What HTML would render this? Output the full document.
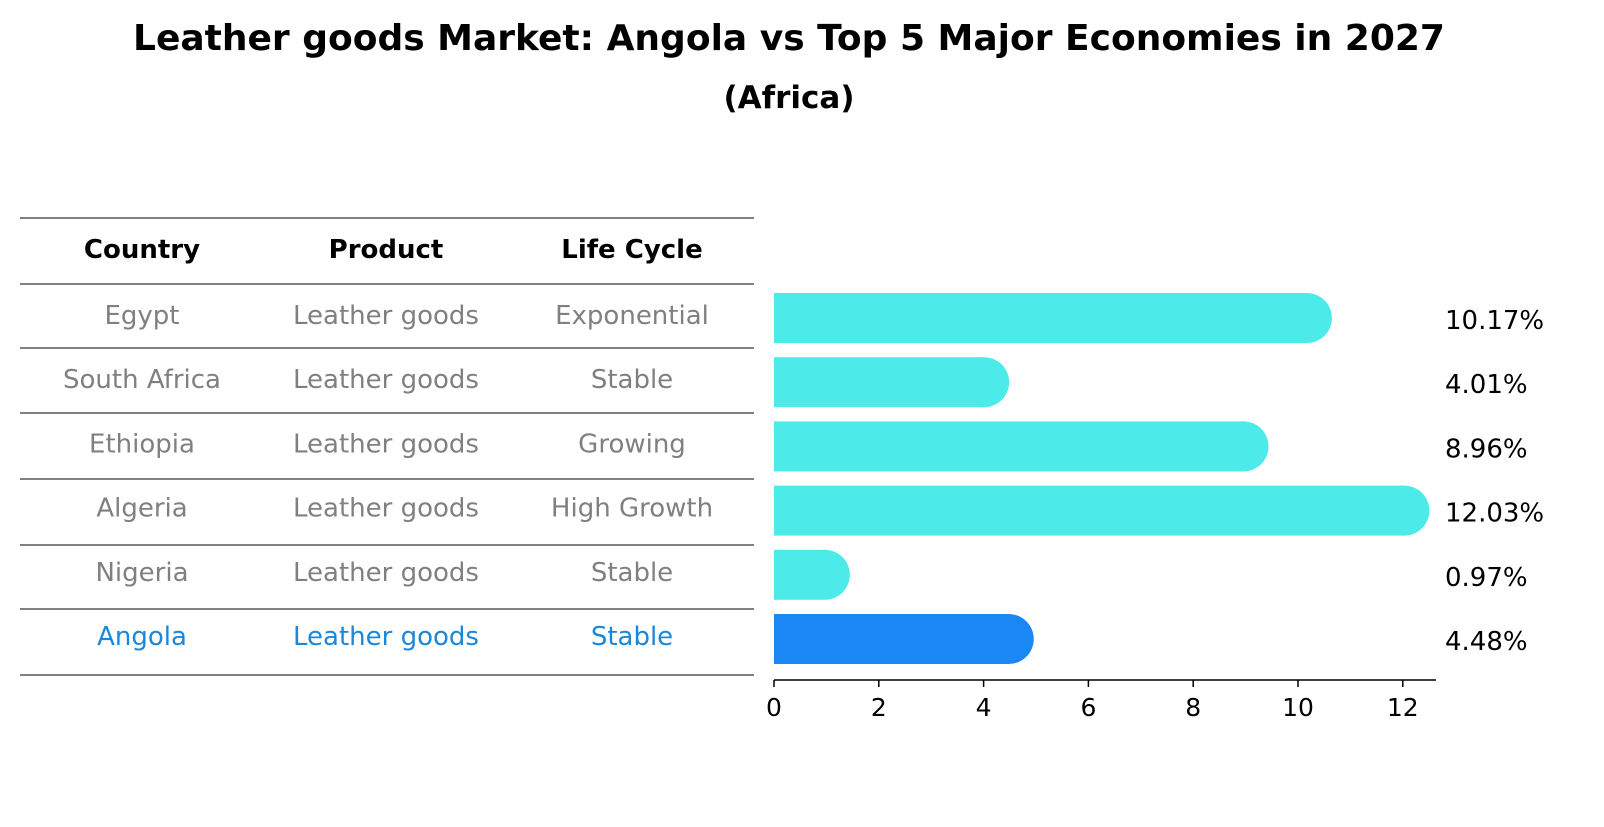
<!DOCTYPE html>
<html><head><meta charset="utf-8"><style>
body{margin:0;background:#fff;font-family:"DejaVu Sans","Liberation Sans",sans-serif;}
svg text{font-family:"DejaVu Sans","Liberation Sans",sans-serif;}
</style></head><body>
<svg id="chart" width="1604" height="823" xmlns="http://www.w3.org/2000/svg">
<text x="789" y="50" text-anchor="middle" font-size="36" font-weight="bold">Leather goods Market: Angola vs Top 5 Major Economies in 2027</text>
<text x="789" y="108" text-anchor="middle" font-size="31" font-weight="bold">(Africa)</text>
<g id="table"></g>
<g id="bars"></g>
</svg>
<script>
const countries=["Egypt","South Africa","Ethiopia","Algeria","Nigeria","Angola"];
const products=["Leather goods","Leather goods","Leather goods","Leather goods","Leather goods","Leather goods"];
const lifecycles=["Exponential","Stable","Growing","High Growth","Stable","Stable"];
const values=[10.17,4.01,8.96,12.03,0.97,4.48];
const valueLabels=["10.17%","4.01%","8.96%","12.03%","0.97%","4.48%"];
const xTicks=[0,2,4,6,8,10,12];
const headers=["Country","Product","Life Cycle"];

const NS="http://www.w3.org/2000/svg";
function mk(t,a,p){const e=document.createElementNS(NS,t);for(const k in a)e.setAttribute(k,a[k]);p.appendChild(e);return e;}
const x=v=>774+v*52.4;
const rowY=i=>318+i*64.2;
const tbl=document.getElementById('table');
const colX=[142,386,632];
const lineYs=[218,284,348,413,479,545,609,675];
lineYs.forEach(y=>{const l=mk('line',{x1:20,x2:754,y1:y,y2:y,stroke:'#000','stroke-width':1},tbl);

});
headers.forEach((h,j)=>{const t=mk('text',{x:colX[j],y:258,'text-anchor':'middle','font-size':26,'font-weight':'bold'},tbl);t.textContent=h;

});
countries.forEach((c,i)=>{const col=i===countries.length-1?'#1a87d9':'#808080';
[c,products[i],lifecycles[i]].forEach((s,j)=>{const t=mk('text',{x:colX[j],y:rowY(i)+6,'text-anchor':'middle','font-size':26,fill:col},tbl);t.textContent=s;

});});
const g=document.getElementById('bars');
values.forEach((v,i)=>{const col=i===values.length-1?'#1a87f5':'#4cebe9';const cy=rowY(i),h=50;
const r=mk('rect',{x:x(0),y:cy-h/2,width:x(v)-x(0),height:h,fill:col},g);


const c=mk('circle',{cx:x(v),cy:cy,r:h/2,fill:col},g);


const t=mk('text',{x:1445,y:cy+11,'font-size':26},g);t.textContent=valueLabels[i];

});
const ax=mk('line',{x1:774,x2:1436,y1:680,y2:680,stroke:'#000','stroke-width':1.5},g);


xTicks.forEach(v=>{const tk=mk('line',{x1:x(v),x2:x(v),y1:680,y2:687,stroke:'#000','stroke-width':1.5},g);


const t=mk('text',{x:x(v),y:716,'text-anchor':'middle','font-size':25},g);t.textContent=v;

});
</script>
</body></html>
